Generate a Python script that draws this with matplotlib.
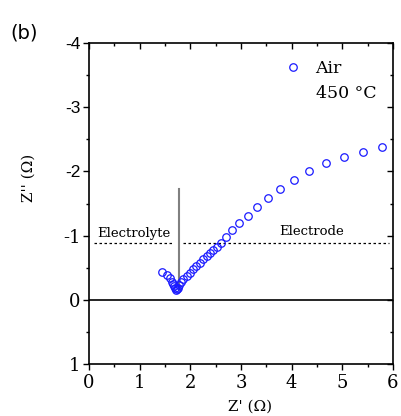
import matplotlib
matplotlib.use("Agg")
import matplotlib.pyplot as plt
import numpy as np
from matplotlib.ticker import MultipleLocator

# impedance spectrum, air at 450 C (Z' and -Z'' in ohm)
z_real = [5.79, 5.41, 5.03, 4.67, 4.35, 4.04, 3.77, 3.53, 3.32, 3.14,
          2.96, 2.82, 2.70, 2.60, 2.53, 2.45, 2.39, 2.32, 2.25, 2.19,
          2.12, 2.06, 1.99, 1.93, 1.86, 1.81, 1.78, 1.76, 1.74, 1.72,
          1.70, 1.68, 1.66, 1.63, 1.60, 1.54, 1.45]
z_imag_neg = [2.38, 2.31, 2.23, 2.13, 2.00, 1.86, 1.72, 1.59, 1.44, 1.31,
              1.20, 1.09, 0.98, 0.89, 0.83, 0.78, 0.73, 0.68, 0.63, 0.58,
              0.53, 0.48, 0.42, 0.37, 0.32, 0.27, 0.23, 0.19, 0.17, 0.16,
              0.18, 0.21, 0.24, 0.28, 0.34, 0.39, 0.44]

split_x = 1.775      # electrolyte / electrode boundary
split_top = 1.72
boundary_level = 0.88

serif = "DejaVu Serif"
sans = "Liberation Sans"

fig = plt.figure(figsize=(4.02, 4.16), dpi=100)
ax = fig.add_axes([0.2214, 0.125, 0.7562, 0.7716])

z_imag = -np.array(z_imag_neg)
ax.plot(z_real, z_imag, "o", ms=5.4, mfc="none", mec="#1a1aff", mew=0.9,
        label="Air", zorder=3)

ax.axhline(0, color="black", lw=1.2, zorder=1)
ax.plot([split_x, split_x], [-0.16, -split_top], color="#808080", lw=1.5, zorder=2)
ax.plot([0.1, 1.66], [-boundary_level] * 2, ls=(0, (2, 2)), color="black", lw=0.9)
ax.plot([1.86, 5.92], [-boundary_level] * 2, ls=(0, (2, 2)), color="black", lw=0.9)
ax.text(0.89, -1.04, "Electrolyte", family=serif, fontsize=9.5, ha="center", va="center")
ax.text(4.40, -1.07, "Electrode", family=serif, fontsize=9.5, ha="center", va="center")

ax.set_xlim(0, 6)
ax.set_ylim(1, -4)
ax.set_xticks(range(0, 7))
ax.set_xticklabels([str(v) for v in range(0, 7)], family=serif, fontsize=13)
yt = [-4, -3, -2, -1, 0, 1]
ax.set_yticks(yt)
ax.set_yticklabels([str(v) for v in yt], fontsize=13)
for lab, v in zip(ax.get_yticklabels(), yt):
    if v < -1:
        lab.set_family(sans)
        lab.set_fontsize(12.5)
    else:
        lab.set_family(serif)
ax.xaxis.set_minor_locator(MultipleLocator(0.5))
ax.yaxis.set_minor_locator(MultipleLocator(0.5))

for s in ax.spines.values():
    s.set_linewidth(1.2)
ax.tick_params(which="both", top=True, right=True, width=1.0, direction="out")
ax.tick_params(which="major", length=4)
ax.tick_params(which="minor", length=2.5)
ax.tick_params(axis="x", pad=3)
ax.tick_params(axis="y", pad=2)

# left/bottom ticks point out, top/right ticks point in
for t in ax.xaxis.get_ticklines(minor=False)[1::2] + ax.xaxis.get_ticklines(minor=True)[1::2]:
    t.set_marker(3)
for t in ax.yaxis.get_ticklines(minor=False)[1::2] + ax.yaxis.get_ticklines(minor=True)[1::2]:
    t.set_marker(0)

ax.set_xlabel("Z' (\u03a9)", family=serif, fontsize=11)
ax.xaxis.set_label_coords(0.53, -0.11)
ax.set_ylabel("Z'' (\u03a9)", family=serif, fontsize=11)
ax.yaxis.set_label_coords(-0.175, 0.58)

leg = ax.legend(loc="upper right", frameon=False, prop={"family": serif, "size": 12.5},
                handletextpad=0.5, handlelength=1.6, borderaxespad=0.0,
                bbox_to_anchor=(0.855, 0.97))
ax.text(0.748, 0.843, "450 \u00b0C", transform=ax.transAxes, family=serif,
        fontsize=12.5, ha="left", va="center")

fig.text(0.025, 0.92, "(b)", family="DejaVu Sans", fontsize=14, va="center")

fig.savefig("out.png", dpi=100)
